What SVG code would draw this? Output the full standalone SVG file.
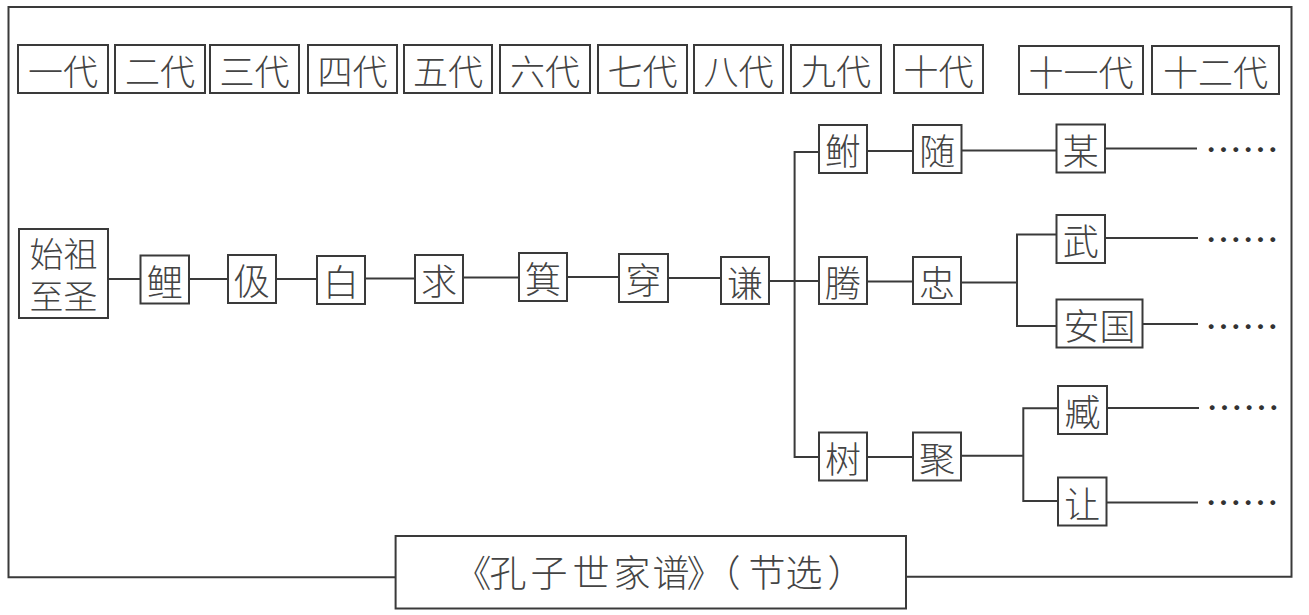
<svg xmlns="http://www.w3.org/2000/svg" width="1309" height="615" viewBox="0 0 1309 615">
<style>
.bx{fill:#fff;stroke:#3a3a3a;stroke-width:2}
.ln{fill:none;stroke:#3a3a3a;stroke-width:2}
.t{font-family:"Noto Sans CJK SC","Noto Sans CJK TC",sans-serif;fill:#444;font-weight:300;text-anchor:middle;dominant-baseline:central}
.h{font-size:35px}
.n{font-size:36px}
.ttl{font-size:37px}
.dots{font-family:"Noto Sans CJK SC",sans-serif;fill:#333;font-size:37px;dominant-baseline:central}
</style>
<rect width="1309" height="615" fill="#fff"/>
<g id="frame">
<path class="ln" d="M395.6 577.3 H8.5 V7 H1291.5 V576.7 H906"/>
</g>
<g id="headers">
<g id="h1"><rect class="bx" x="18" y="45" width="90" height="48"/><text class="t h" x="63" y="69">一代</text></g>
<g id="h2"><rect class="bx" x="115" y="45" width="90" height="48"/><text class="t h" x="160" y="69">二代</text></g>
<g id="h3"><rect class="bx" x="210" y="45" width="89" height="48"/><text class="t h" x="254.5" y="69">三代</text></g>
<g id="h4"><rect class="bx" x="308" y="45" width="89" height="48"/><text class="t h" x="352.5" y="69">四代</text></g>
<g id="h5"><rect class="bx" x="404" y="45" width="88" height="48"/><text class="t h" x="448" y="69">五代</text></g>
<g id="h6"><rect class="bx" x="500" y="45" width="90" height="48"/><text class="t h" x="545" y="69">六代</text></g>
<g id="h7"><rect class="bx" x="598" y="45" width="89" height="48"/><text class="t h" x="642.5" y="69">七代</text></g>
<g id="h8"><rect class="bx" x="694" y="45" width="89" height="48"/><text class="t h" x="738.5" y="69">八代</text></g>
<g id="h9"><rect class="bx" x="791" y="45" width="90" height="48"/><text class="t h" x="836" y="69">九代</text></g>
<g id="h10"><rect class="bx" x="894" y="45" width="89" height="48"/><text class="t h" x="938.5" y="69">十代</text></g>
<g id="h11"><rect class="bx" x="1019" y="46" width="124" height="48"/><text class="t h" x="1081" y="70">十一代</text></g>
<g id="h12"><rect class="bx" x="1152" y="46" width="127" height="48"/><text class="t h" x="1215.5" y="70">十二代</text></g>
</g>
<g id="connectors">
<path class="ln" d="M108 279 H140.5 M189 279 H228 M276 279 H317 M365 278.5 H415 M463 277.5 H519 M567 277 H619 M668 278 H721 M769 281 H819 M867 281.5 H913"/>
<path class="ln" d="M819 152 H794.6 V457 H819"/>
<path class="ln" d="M867 151 H913 M961.5 150.5 H1056.5 M1105 148.5 H1197"/>
<path class="ln" d="M961 282.5 H1017 M1056.5 234.5 H1017 V326 H1056.5"/>
<path class="ln" d="M1105 238 H1198 M1142.6 324 H1198"/>
<path class="ln" d="M867 457 H913 M961 455.7 H1023.3 M1058 408.3 H1023.3 V501 H1058"/>
<path class="ln" d="M1107 408 H1199 M1106.5 502.5 H1198"/>
</g>
<g id="n-shizu"><rect class="bx" x="19" y="229" width="89" height="89"/><text class="t" font-size="34" x="63.5" y="252.5">始祖</text><text class="t" font-size="34" x="63.5" y="294.5">至圣</text></g>
<g id="n-li"><rect class="bx" x="140.5" y="255.5" width="48.5" height="48"/><text class="t n" x="164.7" y="279.5">鲤</text></g>
<g id="n-ji"><rect class="bx" x="228" y="255" width="48" height="48"/><text class="t n" x="252" y="279">伋</text></g>
<g id="n-bai"><rect class="bx" x="317" y="256" width="48" height="48"/><text class="t n" x="341" y="280">白</text></g>
<g id="n-qiu"><rect class="bx" x="415" y="255" width="48" height="48"/><text class="t n" x="439" y="279">求</text></g>
<g id="n-ji2"><rect class="bx" x="519" y="253" width="48" height="48"/><text class="t n" x="543" y="277">箕</text></g>
<g id="n-chuan"><rect class="bx" x="619" y="254" width="49" height="48"/><text class="t n" x="643.5" y="278">穿</text></g>
<g id="n-qian"><rect class="bx" x="721" y="257" width="48" height="47"/><text class="t n" x="745" y="280.5">谦</text></g>
<g id="n-fu"><rect class="bx" x="819" y="125" width="48" height="48"/><text class="t n" x="843" y="149">鲋</text></g>
<g id="n-sui"><rect class="bx" x="913" y="125" width="48.5" height="48"/><text class="t n" x="937.2" y="149">随</text></g>
<g id="n-mou"><rect class="bx" x="1056.5" y="124.5" width="48.5" height="48"/><text class="t n" x="1080.7" y="148.5">某</text></g>
<g id="n-teng"><rect class="bx" x="819" y="257" width="48" height="47"/><text class="t n" x="843" y="280.5">腾</text></g>
<g id="n-zhong"><rect class="bx" x="913" y="257" width="48" height="47"/><text class="t n" x="937" y="280.5">忠</text></g>
<g id="n-wu"><rect class="bx" x="1056.5" y="215" width="48.5" height="48"/><text class="t n" x="1080.7" y="239">武</text></g>
<g id="n-anguo"><rect class="bx" x="1056.5" y="299.5" width="86" height="48"/><text class="t n" x="1099.5" y="323.5">安国</text></g>
<g id="n-shu"><rect class="bx" x="819" y="432.5" width="48" height="48"/><text class="t n" x="843" y="456.5">树</text></g>
<g id="n-ju"><rect class="bx" x="913" y="432.5" width="48" height="48"/><text class="t n" x="937" y="456.5">聚</text></g>
<g id="n-zang"><rect class="bx" x="1058" y="386" width="49" height="48"/><text class="t n" x="1082.5" y="410">臧</text></g>
<g id="n-rang"><rect class="bx" x="1058" y="477.5" width="48.5" height="48"/><text class="t n" x="1082.2" y="501.5">让</text></g>
<g id="ellipses">
<text class="dots" x="1205" y="148">……</text>
<text class="dots" x="1205" y="238">……</text>
<text class="dots" x="1205" y="325">……</text>
<text class="dots" x="1206" y="406">……</text>
<text class="dots" x="1205" y="501">……</text>
</g>
<g id="title"><rect class="bx" x="395.6" y="536" width="510.4" height="72.5"/><text class="t ttl" y="571" x="473 508 549 591 632 671 705 722 767 804 846">《孔子世家谱》（节选）</text></g>
</svg>
